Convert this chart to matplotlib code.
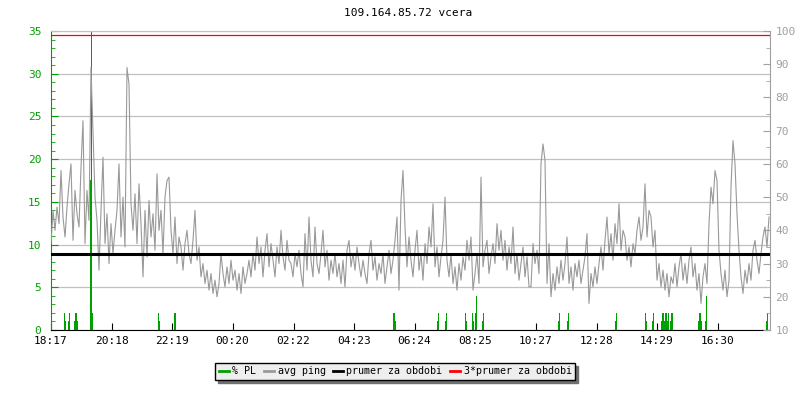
import matplotlib.pyplot as plt
import numpy as np
from matplotlib.lines import Line2D
from matplotlib.ticker import MultipleLocator

plt.rcParams['font.family'] = 'DejaVu Sans Mono'
plt.rcParams['font.size'] = 8

TITLE = '109.164.85.72 vcera'
START = '18:17'
SPAN_MIN = 1438
STEP_MIN = 4

tick_labels = ['18:17', '20:18', '22:19', '00:20', '02:22', '04:23',
               '06:24', '08:25', '10:27', '12:28', '14:29', '16:30']

# avg ping [ms], one value every 4 minutes
ping_ms = [
    36, 46, 40, 47, 42, 58, 44, 38, 47, 54, 60, 37, 52, 45, 41, 59, 73, 36, 52, 43,
    89, 70, 50, 43, 28, 46, 62, 36, 45, 30, 42, 33, 40, 46, 60, 38, 50, 35, 89, 84,
    48, 40, 51, 36, 54, 42, 26, 46, 32, 49, 38, 45, 34, 57, 40, 46, 33, 50, 55, 56,
    # 00:20 area
    40, 33, 44, 30, 38, 35, 28, 36, 40, 33, 30, 37, 46, 31, 35, 26, 30, 24, 28, 22,
    27, 21, 25, 20, 24, 33, 27, 23, 29, 24, 31, 25, 28, 22, 27, 21, 29, 24, 27, 31,
    26, 33, 28, 38, 30, 35, 26, 34, 39, 29, 36, 31, 26, 35, 30, 40, 32, 28, 37, 31,
    # 04:23 area
    30, 26, 33, 29, 34, 27, 23, 39, 28, 44, 31, 26, 41, 30, 27, 33, 40, 29, 34, 25,
    31, 27, 33, 26, 30, 24, 31, 23, 34, 37, 29, 33, 28, 35, 30, 26, 31, 27, 24, 33,
    37, 28, 32, 25, 30, 27, 33, 24, 29, 34, 27, 31, 37, 44, 22, 49, 58, 41, 29, 38,
    # 08:25 area
    31, 26, 34, 40, 28, 33, 25, 36, 30, 41, 35, 48, 29, 35, 26, 32, 37, 50, 31, 26,
    33, 24, 29, 22, 30, 25, 32, 28, 37, 31, 38, 22, 27, 33, 24, 56, 29, 34, 37, 27,
    32, 36, 30, 42, 34, 40, 31, 37, 28, 35, 30, 41, 27, 33, 25, 30, 35, 26, 32, 23,
    # 12:28 area
    23, 36, 30, 34, 27, 60, 66, 61, 24, 36, 20, 27, 22, 29, 24, 31, 25, 30, 38, 24,
    29, 22, 30, 26, 31, 24, 28, 32, 39, 18, 27, 23, 29, 24, 30, 35, 28, 37, 44, 33,
    39, 31, 42, 36, 48, 34, 40, 38, 31, 35, 29, 36, 33, 40, 44, 37, 41, 54, 38, 46,
    # 16:30 area
    44, 35, 40, 25, 30, 23, 28, 22, 27, 20, 26, 24, 30, 23, 29, 33, 25, 30, 24, 31,
    35, 26, 30, 22, 27, 18, 26, 30, 24, 42, 53, 48, 58, 55, 34, 27, 22, 28, 20, 25,
    53, 67, 60, 45, 34, 26, 21, 28, 24, 30, 25, 34, 37, 31, 27, 33, 38, 41, 35, 44,
]

# packet loss [%], minutes since start
pl_minutes = [0, 26, 28, 34, 36, 46, 48, 50, 52, 78, 80, 82, 214, 216, 246, 248,
              684, 686, 688, 772, 774, 788, 790, 828, 830, 842, 844, 848, 850,
              862, 864, 1014, 1016, 1032, 1034, 1128, 1130, 1188, 1190, 1202,
              1204, 1220, 1222, 1224, 1226, 1228, 1230, 1232, 1234, 1238, 1240,
              1242, 1294, 1296, 1298, 1300, 1308, 1310, 1430, 1432]
pl_percent = [2, 2, 1, 1, 2, 1, 2, 2, 1, 17.5, 35, 2, 2, 1, 2, 2,
              2, 2, 1, 1, 2, 1, 2, 2, 1, 2, 1, 2, 4,
              1, 2, 1, 2, 1, 2, 1, 2, 2, 1, 1,
              2, 1, 2, 2, 1, 2, 2, 1, 2, 1, 2,
              2, 1, 2, 2, 1, 1, 4, 1, 2]

mean_ms = 32.9

GREEN = '#00a000'
GRAY = '#999999'
AXGRAY = '#a0a0a0'
GRID = '#c0c0c0'


def to_minutes(label):
    h, m = label.split(':')
    h0, m0 = START.split(':')
    return (int(h) * 60 + int(m) - int(h0) * 60 - int(m0)) % 1440


fig = plt.figure(figsize=(8, 4), dpi=100)
ax = fig.add_axes([51 / 800, 70 / 400, 719 / 800, 299 / 400])
ax2 = ax.twinx()

# % PL on the left axis
ax.bar(pl_minutes, pl_percent, width=2.6, align='edge', color=GREEN,
       linewidth=0, antialiased=False, zorder=2)
ax.set_ylim(0, 35)
ax.set_xlim(0, SPAN_MIN)
ax.yaxis.set_major_locator(MultipleLocator(5))
ax.yaxis.set_minor_locator(MultipleLocator(1))
ax.yaxis.grid(True, color=GRID, linewidth=0.9)
ax.set_axisbelow(True)
ax.tick_params(axis='y', which='both', direction='in', colors=GREEN, pad=7)
ax.tick_params(axis='y', which='major', length=5)
ax.tick_params(axis='y', which='minor', length=3)
ax.set_xticks([to_minutes(t) for t in tick_labels])
ax.set_xticklabels(tick_labels)
ax.tick_params(axis='x', direction='in', length=5, colors='black', pad=4)
ax.spines['left'].set_color(GREEN)
ax.spines['bottom'].set_color('black')
ax.spines['top'].set_color(GRID)
ax.spines['right'].set_visible(False)

# ping on the right axis
t = np.arange(len(ping_ms)) * STEP_MIN
ax2.plot(t, ping_ms, color=GRAY, linewidth=0.8, zorder=2)
ax2.axhline(mean_ms, color='black', linewidth=2.2, zorder=3)
ax2.axhline(3 * mean_ms, color='red', linewidth=0.9, zorder=4)
ax2.set_ylim(10, 100)
ax2.yaxis.set_major_locator(MultipleLocator(10))
ax2.yaxis.set_minor_locator(MultipleLocator(5))
ax2.tick_params(axis='y', which='both', direction='in', colors=AXGRAY, pad=4)
ax2.tick_params(axis='y', which='major', length=5)
ax2.tick_params(axis='y', which='minor', length=3)
for s in ['left', 'top', 'bottom']:
    ax2.spines[s].set_visible(False)
ax2.spines['right'].set_color(AXGRAY)

fig.text(0.51, 1 - 13 / 400, TITLE, ha='center', va='center', fontsize=8)

handles = [Line2D([], [], color=c, linewidth=2) for c in [GREEN, GRAY, 'black', 'red']]
labels = ['% PL', 'avg ping', 'prumer za obdobi', '3*prumer za obdobi']
fig.legend(handles, labels, loc='center', bbox_to_anchor=(395 / 800, 1 - 371 / 400),
           ncol=4, handlelength=1.0, handletextpad=0.4, columnspacing=0.7,
           fancybox=False, edgecolor='black', facecolor='#eeeeee', framealpha=1,
           shadow={'ox': 2.2, 'oy': -2.2, 'color': '#707070', 'alpha': 1},
           borderpad=0.35, fontsize=7.2)

fig.savefig('out.png', dpi=100)
